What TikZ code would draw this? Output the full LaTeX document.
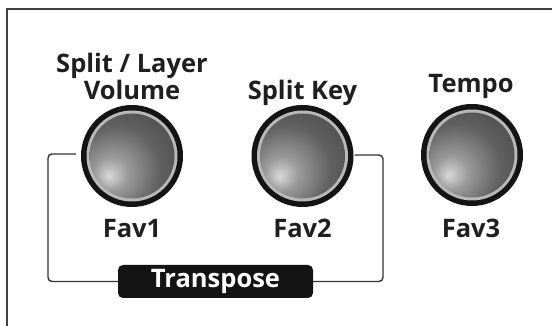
\documentclass[tikz,border=0pt]{standalone}
\usepackage{fontspec}
\setmainfont{Open Sans}
\usetikzlibrary{calc}
\pgfdeclareradialshading{btnball}{\pgfpoint{-14bp}{-12bp}}{%
  color(0bp)=(black!15);
  color(10bp)=(black!40);
  color(26bp)=(black!62);
  color(44bp)=(black!72);
  color(60bp)=(black!85);
  color(80bp)=(black!90)}
\tikzset{
  ring/.style={circle, fill=black!92, minimum size=102pt, inner sep=0pt},
  conn/.style={draw=black!80, line width=1.4pt, rounded corners=4pt},
  lbl/.style={font=\fontsize{25.5}{27}\selectfont\bfseries, text=black!88, anchor=base, inner sep=0pt},
  framel/.style={draw=black!75, line width=1.4pt}
}
\begin{document}
\begin{tikzpicture}[x=1pt,y=1pt]
\useasboundingbox (0,0) rectangle (552,326);
\fill[white] (0,0) rectangle (552,326);
% frame
\draw[framel] (7,-2) -- (7,317) -- (554,317);
% buttons
\foreach \n/\x/\y in {b1/132/170, b2/302.5/170, b3/472/171}{
  \node[ring] (\n) at (\x,\y) {};
  \fill[black!28] (\n.center) circle (45.5);
  \shade[shading=btnball] (\n.center) circle (42.5);
}
% labels
\node[lbl] (l1a) at (132,253) {Split / Layer};
\node[lbl] (l1b) at (132,226) {Volume};
\node[lbl] (l2) at (302.5,226) {Split Key};
\node[lbl] (l3) at (471,233) {Tempo};
\node[lbl] (f1) at (132,88) {Fav1};
\node[lbl] (f2) at (302.5,88) {Fav2};
\node[lbl] (f3) at (471,88) {Fav3};
% transpose
\node[fill=black!92, rounded corners=5pt, minimum width=195pt, minimum height=33pt, inner sep=0pt,
      text=white, font=\fontsize{25.5}{27}\selectfont\bfseries] (tr) at (215.5,44.5) {Transpose};
\coordinate (cl) at (48,172);
\coordinate (cr) at (383,171);
\draw[conn] ([xshift=-5pt]b1.west |- cl) -- (cl) -- (cl |- tr.west) -- (tr.west);
\draw[conn] ([xshift=1pt]b2.east |- cr) -- (cr) -- (cr |- tr.east) -- (tr.east);
\end{tikzpicture}
\end{document}
